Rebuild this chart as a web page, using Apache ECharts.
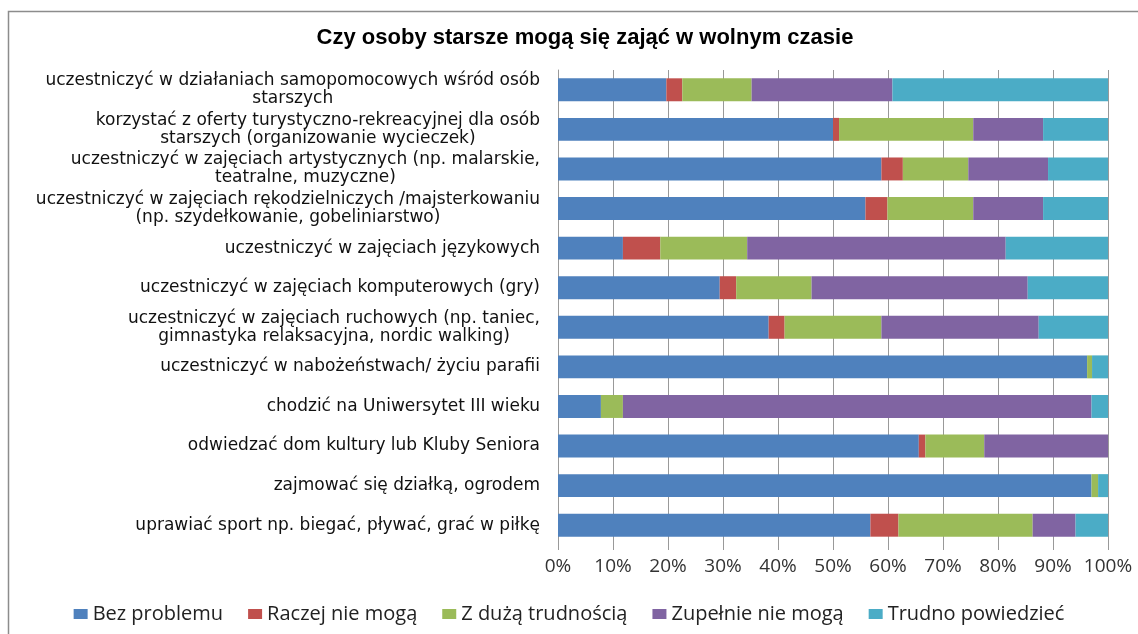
<!DOCTYPE html>
<html>
<head>
<meta charset="utf-8">
<script src="https://cdn.jsdelivr.net/npm/echarts@6/dist/echarts.min.js"></script>
<style>
  html, body { margin: 0; padding: 0; background: #fff; }
  #chart { width: 1138px; height: 634px; }
</style>
</head>
<body>
<div id="chart"></div>
<script>
var kategorie = [
    'uczestniczyć w działaniach samopomocowych wśród osób\nstarszych',
    'korzystać z oferty turystyczno-rekreacyjnej dla osób\nstarszych (organizowanie wycieczek)',
    'uczestniczyć w zajęciach artystycznych (np. malarskie,\nteatralne, muzyczne)',
    'uczestniczyć w zajęciach rękodzielniczych /majsterkowaniu\n(np. szydełkowanie, gobeliniarstwo)',
    'uczestniczyć w zajęciach językowych',
    'uczestniczyć w zajęciach komputerowych (gry)',
    'uczestniczyć w zajęciach ruchowych (np. taniec,\ngimnastyka relaksacyjna, nordic walking)',
    'uczestniczyć w nabożeństwach/ życiu parafii',
    'chodzić na Uniwersytet III wieku',
    'odwiedzać dom kultury lub Kluby Seniora',
    'zajmować się działką, ogrodem',
    'uprawiać sport np. biegać, pływać, grać w piłkę'
];

// procenty, kolejnosc jak kategorie (od gory)
var bezProblemu     = [19.7, 50.0, 58.8, 55.9, 11.8, 29.4, 38.3, 96.2, 7.8, 65.6, 97.0, 56.8];
var raczejNieMoga   = [2.9, 1.1, 3.9, 4.0, 6.8, 3.0, 2.9, 0, 0, 1.2, 0, 5.1];
var zDuzaTrudnoscia = [12.6, 24.4, 11.9, 15.6, 15.8, 13.7, 17.6, 0.9, 4.0, 10.7, 1.2, 24.4];
var zupelnieNieMoga = [25.6, 12.7, 14.5, 12.7, 47.0, 39.3, 28.6, 0, 85.2, 22.5, 0, 7.8];
var trudnoPowiedziec = [39.2, 11.8, 10.9, 11.8, 18.6, 14.6, 12.6, 2.9, 3.0, 0, 1.8, 5.9];

var nazwy = ['Bez problemu', 'Raczej nie mogą', 'Z dużą trudnością', 'Zupełnie nie mogą', 'Trudno powiedzieć'];
var kolory = ['#4F81BD', '#C0504D', '#9BBB59', '#8064A2', '#4BACC6'];
var dane = [bezProblemu, raczejNieMoga, zDuzaTrudnoscia, zupelnieNieMoga, trudnoPowiedziec];

var myChart = echarts.init(document.getElementById('chart'));

var seria = [];
for (var i = 0; i < nazwy.length; i++) {
    seria.push({
        name: nazwy[i],
        type: 'bar',
        stack: 'razem',
        barWidth: '58%',
        itemStyle: { color: kolory[i] },
        data: dane[i]
    });
}

var option = {
    animation: false,
    backgroundColor: '#fff',
    color: kolory,
    graphic: [{
        type: 'rect',
        shape: { x: 8.5, y: 11.5, width: 1140, height: 640 },
        style: { fill: 'none', stroke: '#8c8c8c', lineWidth: 1.5 },
        silent: true
    }],
    title: {
        text: 'Czy osoby starsze mogą się zająć w wolnym czasie',
        left: 580,
        top: 22,
        textAlign: 'center',
        textStyle: {
            fontFamily: 'Liberation Sans',
            fontSize: 22,
            fontWeight: 'bold',
            color: '#000'
        }
    },
    legend: {
        bottom: 5,
        left: 'center',
        icon: 'rect',
        itemWidth: 14,
        itemHeight: 10,
        itemGap: 25,
        textStyle: {
            fontFamily: 'Open Sans',
            fontSize: 20,
            color: '#222'
        },
        data: nazwy
    },
    grid: {
        left: 558,
        right: 30,
        top: 70,
        bottom: 89
    },
    xAxis: {
        type: 'value',
        min: 0,
        max: 100,
        interval: 10,
        axisLine: { show: false },
        axisTick: { show: true, length: 5, lineStyle: { color: '#999' } },
        splitLine: { show: true, lineStyle: { color: '#999', width: 1 } },
        axisLabel: {
            formatter: '{value}%',
            margin: 12,
            fontFamily: 'Open Sans',
            fontSize: 19,
            color: '#333'
        }
    },
    yAxis: {
        type: 'category',
        inverse: true,
        data: kategorie,
        axisLine: { show: true, lineStyle: { color: '#999' } },
        axisTick: { show: false },
        axisLabel: {
            margin: 18,
            color: '#111',
            fontFamily: 'DejaVu Sans',
            fontSize: 17,
            lineHeight: 18,
            formatter: function (v) {
                return v.split('\n').map(function (l) { return '{c|' + l + '}'; }).join('\n');
            },
            rich: {
                c: {
                    align: 'center',
                    fontFamily: 'DejaVu Sans',
                    fontSize: 17,
                    lineHeight: 18,
                    color: '#111'
                }
            }
        }
    },
    series: seria
};

myChart.setOption(option);
window.onresize = function () {
    myChart.resize();
};
</script>
</body>
</html>
